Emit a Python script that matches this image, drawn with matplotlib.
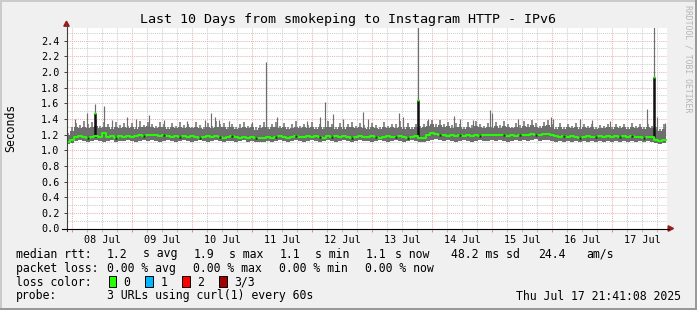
import matplotlib
matplotlib.use("Agg")
import matplotlib.pyplot as plt
import matplotlib.dates as mdates
from matplotlib.ticker import MultipleLocator, FuncFormatter, NullFormatter
from matplotlib.patches import Rectangle, Polygon
from matplotlib.lines import Line2D
import numpy as np
import pandas as pd

W, H, DPI = 697, 310, 100

# ---------------- data ----------------
start = pd.Timestamp("2025-07-07 21:41:08")
end = pd.Timestamp("2025-07-17 21:41:08")
step_minutes = 96

median_rtt = [
    1.11, 1.13, 1.17, 1.18, 1.17, 1.16, 1.17, 1.18, 1.17, 1.22, 1.17, 1.18, 1.16, 1.18, 1.17,
    1.18, 1.17, 1.18, 1.19, 1.18, 1.19, 1.20, 1.19, 1.18, 1.19, 1.18, 1.17, 1.18, 1.17, 1.18,
    1.17, 1.18, 1.17, 1.16, 1.17, 1.18, 1.17, 1.18, 1.17, 1.16, 1.17, 1.18, 1.17, 1.16, 1.17,
    1.16, 1.17, 1.16, 1.15, 1.16, 1.17, 1.16, 1.17, 1.18, 1.17, 1.16, 1.17, 1.18, 1.17, 1.17,
    1.18, 1.17, 1.18, 1.17, 1.16, 1.18, 1.17, 1.18, 1.17, 1.18, 1.17, 1.16, 1.17, 1.18, 1.17,
    1.17, 1.18, 1.17, 1.16, 1.17, 1.18, 1.17, 1.17, 1.18, 1.17, 1.16, 1.17, 1.18, 1.15, 1.16,
    1.20, 1.22, 1.21, 1.20, 1.19, 1.18, 1.19, 1.18, 1.19, 1.18, 1.19, 1.18, 1.19, 1.18, 1.19,
    1.19, 1.20, 1.19, 1.20, 1.19, 1.18, 1.19, 1.18, 1.19, 1.20, 1.19, 1.21, 1.20, 1.19, 1.21,
    1.21, 1.20, 1.18, 1.17, 1.18, 1.17, 1.18, 1.17, 1.16, 1.17, 1.18, 1.17, 1.17, 1.18, 1.17,
    1.18, 1.17, 1.18, 1.17, 1.18, 1.17, 1.18, 1.17, 1.17, 1.16, 1.17, 1.17, 1.13, 1.12, 1.13,
]

smoke_low = [
    1.08, 1.09, 1.12, 1.13, 1.12, 1.11, 1.12, 1.13, 1.12, 1.11, 1.12, 1.13, 1.11, 1.12, 1.12,
    1.13, 1.12, 1.11, 1.12, 1.13, 1.12, 1.13, 1.12, 1.11, 1.12, 1.13, 1.12, 1.11, 1.12, 1.13,
    1.12, 1.11, 1.12, 1.13, 1.12, 1.11, 1.12, 1.13, 1.12, 1.11, 1.12, 1.12, 1.11, 1.12, 1.13,
    1.11, 1.12, 1.11, 1.10, 1.11, 1.12, 1.11, 1.12, 1.13, 1.12, 1.11, 1.12, 1.13, 1.12, 1.11,
    1.12, 1.13, 1.12, 1.11, 1.12, 1.13, 1.12, 1.11, 1.12, 1.13, 1.12, 1.11, 1.12, 1.13, 1.12,
    1.12, 1.11, 1.12, 1.13, 1.12, 1.11, 1.12, 1.13, 1.12, 1.11, 1.12, 1.13, 1.12, 1.10, 1.11,
    1.12, 1.13, 1.14, 1.13, 1.12, 1.13, 1.12, 1.11, 1.12, 1.13, 1.12, 1.11, 1.12, 1.13, 1.12,
    1.12, 1.13, 1.12, 1.13, 1.12, 1.11, 1.12, 1.13, 1.12, 1.13, 1.12, 1.13, 1.14, 1.12, 1.13,
    1.13, 1.12, 1.11, 1.12, 1.11, 1.12, 1.11, 1.12, 1.11, 1.12, 1.11, 1.12, 1.11, 1.12, 1.11,
    1.12, 1.11, 1.12, 1.11, 1.12, 1.11, 1.12, 1.11, 1.12, 1.11, 1.12, 1.11, 1.09, 1.08, 1.09,
]

smoke_high = [
    1.20, 1.24, 1.29, 1.28, 1.30, 1.28, 1.30, 1.31, 1.28, 1.30, 1.29, 1.27, 1.30, 1.28, 1.29,
    1.28, 1.30, 1.27, 1.30, 1.29, 1.31, 1.29, 1.28, 1.30, 1.29, 1.27, 1.29, 1.28, 1.30, 1.28,
    1.29, 1.28, 1.30, 1.28, 1.27, 1.29, 1.28, 1.30, 1.29, 1.30, 1.27, 1.29, 1.27, 1.28, 1.30,
    1.28, 1.29, 1.26, 1.28, 1.30, 1.27, 1.29, 1.30, 1.28, 1.29, 1.27, 1.28, 1.30, 1.28, 1.29,
    1.28, 1.30, 1.27, 1.29, 1.27, 1.30, 1.29, 1.27, 1.30, 1.27, 1.29, 1.30, 1.28, 1.29, 1.28,
    1.27, 1.29, 1.28, 1.27, 1.30, 1.28, 1.29, 1.28, 1.30, 1.27, 1.29, 1.27, 1.29, 1.28, 1.29,
    1.31, 1.33, 1.30, 1.32, 1.29, 1.31, 1.28, 1.30, 1.29, 1.27, 1.30, 1.28, 1.31, 1.29, 1.28,
    1.30, 1.28, 1.31, 1.28, 1.31, 1.29, 1.28, 1.30, 1.28, 1.31, 1.29, 1.32, 1.30, 1.28, 1.31,
    1.32, 1.29, 1.27, 1.29, 1.27, 1.29, 1.28, 1.30, 1.27, 1.29, 1.28, 1.29, 1.27, 1.28, 1.28,
    1.29, 1.27, 1.29, 1.28, 1.29, 1.27, 1.30, 1.28, 1.29, 1.27, 1.29, 1.28, 1.26, 1.25, 1.27,
]

# thin one-pixel peaks rising above the smoke band, one per sample
smoke_peak = [
    1.22, 1.30, 1.35, 1.32, 1.37, 1.33, 1.36, 1.38, 1.31, 1.36, 1.34, 1.30, 1.36, 1.32, 1.35,
    1.31, 1.35, 1.30, 1.37, 1.32, 1.36, 1.33, 1.31, 1.36, 1.33, 1.30, 1.35, 1.31, 1.36, 1.32,
    1.34, 1.30, 1.36, 1.32, 1.30, 1.35, 1.31, 1.37, 1.33, 1.35, 1.30, 1.34, 1.30, 1.33, 1.36,
    1.31, 1.34, 1.29, 1.32, 1.36, 1.30, 1.33, 1.36, 1.31, 1.35, 1.29, 1.33, 1.37, 1.31, 1.34,
    1.32, 1.36, 1.30, 1.34, 1.30, 1.37, 1.33, 1.30, 1.35, 1.30, 1.33, 1.36, 1.31, 1.35, 1.32,
    1.30, 1.35, 1.32, 1.29, 1.36, 1.31, 1.34, 1.33, 1.37, 1.30, 1.35, 1.30, 1.33, 1.31, 1.34,
    1.37, 1.39, 1.34, 1.38, 1.33, 1.36, 1.32, 1.35, 1.33, 1.30, 1.36, 1.32, 1.37, 1.33, 1.31,
    1.35, 1.30, 1.36, 1.32, 1.37, 1.33, 1.30, 1.35, 1.32, 1.37, 1.33, 1.38, 1.35, 1.31, 1.36,
    1.38, 1.33, 1.30, 1.35, 1.29, 1.33, 1.31, 1.35, 1.29, 1.33, 1.31, 1.34, 1.29, 1.32, 1.31,
    1.33, 1.29, 1.34, 1.31, 1.33, 1.29, 1.35, 1.31, 1.33, 1.29, 1.34, 1.31, 1.29, 1.27, 1.33,
]

spike_times = [
    "2025-07-08 01:17", "2025-07-08 05:58", "2025-07-08 09:00", "2025-07-08 12:36",
    "2025-07-08 16:00", "2025-07-08 22:00", "2025-07-09 01:41", "2025-07-09 06:36",
    "2025-07-09 12:36", "2025-07-09 22:00", "2025-07-10 05:17", "2025-07-10 07:41",
    "2025-07-10 09:17", "2025-07-10 10:45", "2025-07-10 14:53", "2025-07-11 00:00",
    "2025-07-11 05:41", "2025-07-11 10:05", "2025-07-11 22:00", "2025-07-12 03:17",
    "2025-07-12 05:17", "2025-07-12 08:29", "2025-07-12 12:29", "2025-07-12 20:29",
    "2025-07-12 22:29", "2025-07-13 10:53", "2025-07-13 12:29", "2025-07-13 18:12",
    "2025-07-13 22:29", "2025-07-14 08:53", "2025-07-14 11:17", "2025-07-14 16:29",
    "2025-07-14 23:17", "2025-07-15 00:05", "2025-07-15 10:29", "2025-07-15 23:41",
    "2025-07-16 00:29", "2025-07-16 11:17", "2025-07-16 16:00", "2025-07-16 23:17",
    "2025-07-17 14:05", "2025-07-17 16:36", "2025-07-17 18:05", "2025-07-17 21:17",
]
spike_tops = [
    1.40, 1.48, 1.59, 1.57,
    1.38, 1.43, 1.40, 1.45,
    1.38, 1.37, 1.38, 1.48,
    1.43, 1.39, 1.37, 1.36,
    2.13, 1.43, 1.37, 1.43,
    1.62, 1.46, 1.40, 1.49,
    1.40, 1.47, 1.43, 2.60,
    1.40, 1.44, 1.40, 1.38,
    1.51, 1.47, 1.40, 1.43,
    1.40, 1.40, 1.38, 1.37,
    1.52, 2.60, 1.43, 1.35,
]

bar_times = ["2025-07-08 09:00", "2025-07-13 18:12", "2025-07-17 16:36"]
bar_tops = [1.47, 1.64, 1.94]

# samples where the median line shows a dark pixel
dark_mark_idx = [5, 12, 19, 24, 28, 33, 38, 41, 47, 52, 57, 63, 66, 71, 77, 82, 85,
                 93, 98, 103, 109, 113, 117, 124, 128, 132, 138, 141, 144]

y_tick_values = [0.0, 0.2, 0.4, 0.6, 0.8, 1.0, 1.2, 1.4, 1.6, 1.8, 2.0, 2.2, 2.4]

title = "Last 10 Days from smokeping to Instagram HTTP - IPv6"
y_label = "Seconds"

legend_rows = [
    [("median rtt:", 16), ("1.2", 106.7), ("s avg", 142.7), ("1.9", 193.3), ("s max", 228.7),
     ("1.1", 279.3), ("s min", 314.7), ("1.1", 365.3), ("s now", 395), ("48.2 ms sd", 451),
     ("24.4", 537.7), ("am/s", 586)],
    [("packet loss:", 16), ("0.00 % avg", 107), ("0.00 % max", 193.3), ("0.00 % min", 279.3),
     ("0.00 % now", 365.3)],
    [("loss color:", 16), ("0", 123.3), ("1", 160.3), ("2", 197.3), ("3/3", 234.3)],
    [("probe:", 16), ("3 URLs using curl(1) every 60s", 107)],
]
legend_row_y = [254, 268.3, 282.3, 296]
loss_colors = ["#26FF00", "#00B8FF", "#FF0000", "#A00000"]
loss_box_x = [108.7, 145.3, 182.3, 219.3]
timestamp_text = "Thu Jul 17 21:41:08 2025"
watermark = "RRDTOOL / TOBI OETIKER"

# ---------------- figure ----------------
plt.rcParams["font.family"] = ["DejaVu Sans Mono", "DejaVu Sans"]
fig = plt.figure(figsize=(W / DPI, H / DPI), dpi=DPI, facecolor="#F0F0F0")


def fx(px):
    return px / W


def fy(py):
    return 1 - py / H


PL, PR, PT, PB = 66.5, 666.5, 28.0, 228.5
ax = fig.add_axes([fx(PL), fy(PB), fx(PR) - fx(PL), fy(PT) - fy(PB)])
ax.set_facecolor("white")
for s in ax.spines.values():
    s.set_visible(False)

times = pd.date_range(start, periods=len(median_rtt), freq=f"{step_minutes}min")
tnum = mdates.date2num(times.to_pydatetime())
xt = list(tnum) + [mdates.date2num(end.to_pydatetime())]
med = list(median_rtt) + [median_rtt[-1]]
lo = list(smoke_low) + [smoke_low[-1]]
hi = list(smoke_high) + [smoke_high[-1]]
half = (tnum[1] - tnum[0]) / 2

smoke_col = "#6E6E6E"
ax.fill_between(xt, lo, hi, step="post", color=smoke_col, lw=0, zorder=3)
ax.vlines(tnum + half, 1.2, smoke_peak, color=smoke_col, lw=1.1, zorder=3)
sx = mdates.date2num(pd.to_datetime(spike_times).to_pydatetime())
ax.vlines(sx, 1.2, spike_tops, color=smoke_col, lw=0.85, zorder=3)
bx = mdates.date2num(pd.to_datetime(bar_times).to_pydatetime())
ax.vlines(bx, 1.17, bar_tops, color="#111111", lw=1.8, zorder=4)
ax.step(xt, med, where="post", color="#22FF00", lw=1.4, zorder=5)
dm_x = [tnum[i] + half for i in dark_mark_idx]
dm_y = [median_rtt[i] for i in dark_mark_idx]
ax.plot(dm_x, dm_y, ls="none", marker="s", ms=1.5, mec="none", color="#1A1A1A", zorder=6)
ax.plot(bx, bar_tops, ls="none", marker="s", ms=1.8, mec="none", color="#22FF00", zorder=6)

ax.set_xlim(mdates.date2num(start.to_pydatetime()), mdates.date2num(end.to_pydatetime()))
ax.set_ylim(0, (PB - PT) / 78.3)

ax.yaxis.set_major_locator(plt.FixedLocator(y_tick_values))
ax.yaxis.set_minor_locator(MultipleLocator(0.1))
ax.yaxis.set_major_formatter(FuncFormatter(lambda v, p: f"{v:.1f}"))
ax.xaxis.set_major_locator(mdates.DayLocator())
ax.xaxis.set_major_formatter(NullFormatter())
ax.xaxis.set_minor_locator(mdates.HourLocator(byhour=[6, 12, 18]))


def xlab(v, p):
    d = mdates.num2date(v)
    return d.strftime("%d %b") if d.hour == 12 else ""


ax.xaxis.set_minor_formatter(FuncFormatter(xlab))

dots = (0, (1, 1))
ax.grid(which="minor", color="#CDCDCD", ls=dots, lw=0.75, zorder=1)
ax.grid(which="major", color="#ECB4B4", ls=dots, lw=0.75, zorder=2)
ax.set_axisbelow(True)

ax.tick_params(axis="y", which="major", length=2, width=0.7, color="#404040", pad=3.0,
               labelsize=7.3, direction="out")
ax.tick_params(axis="y", which="minor", length=0)
ax.tick_params(axis="x", which="major", length=2, width=0.7, color="#D88A8A", direction="out")
ax.tick_params(axis="x", which="minor", length=2, width=0.7, color="#B8B8B8", pad=2.6,
               labelsize=7.3, direction="out")

# axis lines and arrows (figure pixel coords)
fig.add_artist(Line2D([fx(66.5), fx(66.5)], [fy(231), fy(25)], color="#404040", lw=0.8,
                      transform=fig.transFigure))
fig.add_artist(Line2D([fx(62), fx(668.5)], [fy(228.5), fy(228.5)], color="#000000", lw=0.8,
                      transform=fig.transFigure))
fig.add_artist(Polygon([[fx(63.8), fy(26.2)], [fx(69.2), fy(26.2)], [fx(66.5), fy(21.2)]],
                       closed=True, color="#9B1C1C", transform=fig.transFigure))
fig.add_artist(Polygon([[fx(668.2), fy(225.8)], [fx(668.2), fy(231.2)], [fx(673.5), fy(228.5)]],
                       closed=True, color="#9B1C1C", transform=fig.transFigure))

# frame
fig.add_artist(Rectangle((0, fy(2)), 1, 2 / H, color="#CBCBCB", lw=0, transform=fig.transFigure))
fig.add_artist(Rectangle((0, 0), 2 / W, 1, color="#CBCBCB", lw=0, transform=fig.transFigure))
fig.add_artist(Rectangle((0, 0), 1, 2 / H, color="#999999", lw=0, transform=fig.transFigure))
fig.add_artist(Rectangle((fx(W - 2), 0), 2 / W, 1, color="#999999", lw=0, transform=fig.transFigure))

# texts
fig.text(fx(348), fy(19), title, ha="center", va="center", fontsize=9.6, color="#000000")
fig.text(fx(11), fy(128), y_label, ha="center", va="center", rotation=90, fontsize=8.3)
fig.text(fx(688), fy(59), watermark, ha="center", va="center", rotation=270, fontsize=5.9,
         color="#B5B5B5")

for row, yy in zip(legend_rows, legend_row_y):
    for txt, xx in row:
        fig.text(fx(xx), fy(yy), txt, ha="left", va="center", fontsize=8.3)
fig.text(fx(681), fy(legend_row_y[3]), timestamp_text, ha="right", va="center", fontsize=8.3)

for col, bxp in zip(loss_colors, loss_box_x):
    fig.add_artist(Rectangle((fx(bxp), fy(286.5)), 7.6 / W, 11 / H, facecolor=col,
                             edgecolor="#000000", lw=0.7, transform=fig.transFigure))

fig.savefig("out.png", dpi=DPI, facecolor=fig.get_facecolor())
